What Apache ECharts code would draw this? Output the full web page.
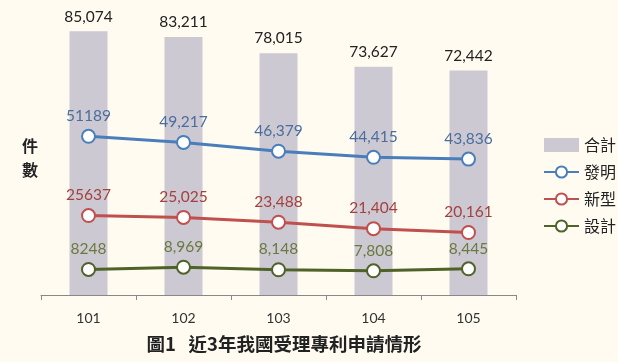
<!DOCTYPE html>
<html><head><meta charset="utf-8">
<script src="https://cdn.jsdelivr.net/npm/echarts@6/dist/echarts.min.js"></script>
<style>html,body{margin:0;padding:0;background:#fffbf1;}#c{width:618px;height:362px;}</style>
</head><body><div id="c"></div>
<script>
const categories = ['101','102','103','104','105'];
const totalValues = [85074, 83211, 78015, 73627, 72442];
const inventionValues = [51189, 49217, 46379, 44415, 43836];
const utilityValues = [25637, 25025, 23488, 21404, 20161];
const designValues = [8248, 8969, 8148, 7808, 8445];
const totalLabels = ['85,074','83,211','78,015','73,627','72,442'];
const inventionLabels = ['51189','49,217','46,379','44,415','43,836'];
const utilityLabels = ['25637','25,025','23,488','21,404','20,161'];
const designLabels = ['8248','8,969','8,148','7,808','8,445'];

const numFont = 'Lato, "Noto Sans CJK TC", sans-serif';
const cjkFont = '"Noto Sans CJK TC", sans-serif';

function lineSeries(name, data, labels, color, labelColor) {
  return {
    name, type: 'line', data,
    symbol: 'circle', symbolSize: 13,
    lineStyle: { color, width: 3 },
    itemStyle: { color: '#ffffff', borderColor: color, borderWidth: 2 },
    label: { show: true, position: 'top', distance: 5, color: labelColor,
      fontSize: 15.5, fontFamily: numFont,
      formatter: p => labels[p.dataIndex] },
    emphasis: { disabled: true }, z: 3
  };
}

const chart = echarts.init(document.getElementById('c'), null, { renderer: 'canvas' });
chart.setOption({
  backgroundColor: '#fffbf1',
  animation: false,
  grid: { left: 41, right: 102, top: 16, bottom: 67 },
  title: {
    text: '圖1   近3年我國受理專利申請情形',
    left: 279, top: 330, textAlign: 'center',
    textStyle: { fontSize: 18.5, fontWeight: 'bold', color: '#222', fontFamily: cjkFont }
  },
  legend: {
    orient: 'vertical', left: 538, top: 132, itemGap: 11,
    itemWidth: 35, itemHeight: 14,
    textStyle: { fontSize: 16, color: '#222', fontFamily: cjkFont },
    data: [
      { name: '合計', icon: 'rect' },
      { name: '發明' }, { name: '新型' }, { name: '設計' }
    ]
  },
  xAxis: {
    type: 'category', data: categories,
    axisLine: { lineStyle: { color: '#888', width: 1 } },
    axisTick: { show: true, length: 5, lineStyle: { color: '#888' } },
    axisLabel: { color: '#333', fontSize: 14, fontFamily: numFont, margin: 16 }
  },
  yAxis: {
    type: 'value', min: 0, max: 90000,
    axisLine: { show: false }, axisTick: { show: false },
    axisLabel: { show: false }, splitLine: { show: false }
  },
  graphic: [{
    type: 'text', left: 22, top: 134,
    style: { text: '件\n數', fontSize: 16, fontWeight: 'bold', lineHeight: 24,
      fill: '#222', fontFamily: cjkFont }
  }],
  series: [
    {
      name: '合計', type: 'bar', data: totalValues, barWidth: 38,
      itemStyle: { color: '#cdc9d3' },
      label: { show: true, position: 'top', distance: 7, color: '#222',
        fontSize: 15.5, fontFamily: numFont,
        formatter: p => totalLabels[p.dataIndex] },
      emphasis: { disabled: true }, z: 1
    },
    lineSeries('發明', inventionValues, inventionLabels, '#4a7ebb', '#4b6d9e'),
    lineSeries('新型', utilityValues, utilityLabels, '#c0504d', '#a4403e'),
    lineSeries('設計', designValues, designLabels, '#4f6228', '#6a7a3e')
  ]
});
</script></body></html>
